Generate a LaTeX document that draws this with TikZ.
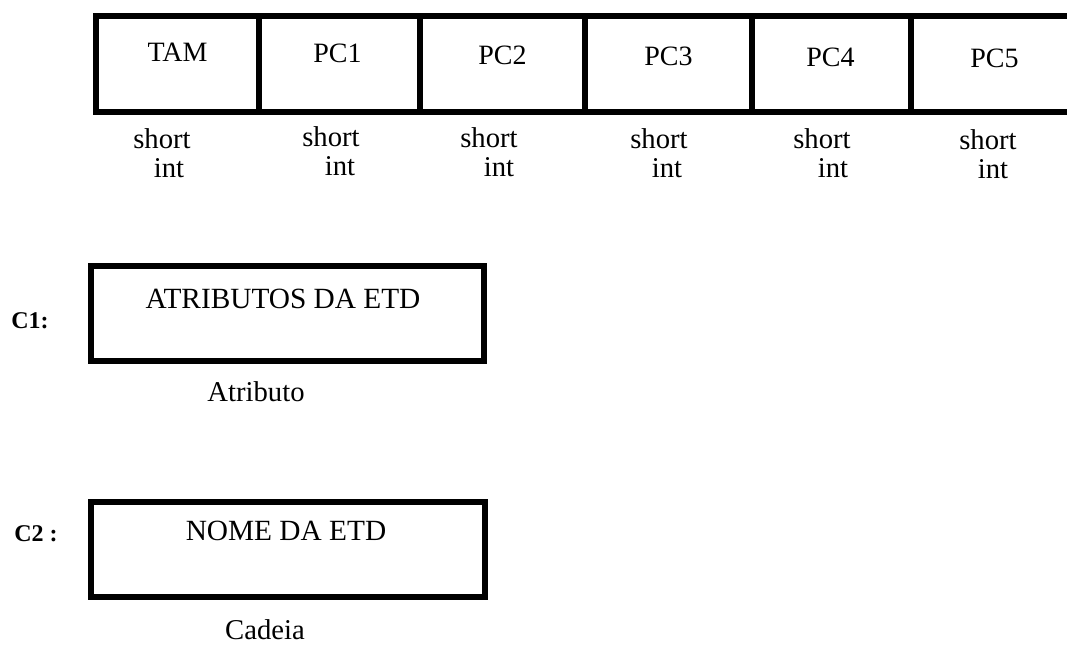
\documentclass[tikz,border=0pt]{standalone}
\usepackage{fontspec}
\setmainfont{Liberation Serif}
\usetikzlibrary{calc}
\tikzset{
  cellbox/.style={draw=black, line width=4.8pt, inner sep=0pt, outer sep=0pt,
    minimum height=96*0.75pt},
  bigbox/.style={draw=black, line width=5.2pt, inner sep=0pt, outer sep=0pt},
  celltxt/.style={inner sep=0pt, font=\fontsize{21}{25}\selectfont},
  typetxt/.style={inner sep=0pt, anchor=base, font=\fontsize{21.5}{26}\selectfont},
  boxtxt/.style={inner sep=0pt, anchor=base, font=\fontsize{22}{26}\selectfont},
  sidetxt/.style={inner sep=0pt, anchor=base, font=\fontsize{18}{22}\selectfont\bfseries}
}
\begin{document}
\begin{tikzpicture}[x=0.75pt,y=-0.75pt]
\useasboundingbox (0,0) rectangle (1067,646);
% top record
\node[cellbox, minimum width=163*0.75pt] (tam) at (177.5,64) {};
\node[cellbox, minimum width=161*0.75pt] (pc1) at (339.5,64) {};
\node[cellbox, minimum width=165*0.75pt] (pc2) at (502.5,64) {};
\node[cellbox, minimum width=167*0.75pt] (pc3) at (668.5,64) {};
\node[cellbox, minimum width=159*0.75pt] (pc4) at (831.5,64) {};
\node[cellbox, minimum width=169*0.75pt] (pc5) at (995.5,64) {};
\node[celltxt] (ttam) at ($(tam.north)+(0,36)$) {TAM};
\node[celltxt] (tpc1) at ($(pc1.north)+(-2,37)$) {PC1};
\node[celltxt] (tpc2) at ($(pc2.north)+(0,39)$) {PC2};
\node[celltxt] (tpc3) at ($(pc3.north)+(0,40)$) {PC3};
\node[celltxt] (tpc4) at ($(pc4.north)+(-1,41)$) {PC4};
\node[celltxt] (tpc5) at ($(pc5.north)+(-1,42)$) {PC5};
% type labels
\node[typetxt] (s1) at (162,148) {short};
\node[typetxt] (i1) at (169,177) {int};
\node[typetxt] (s2) at (331,146) {short};
\node[typetxt] (i2) at (340,175) {int};
\node[typetxt] (s3) at (489,147) {short};
\node[typetxt] (i3) at (499,176) {int};
\node[typetxt] (s4) at (659,148) {short};
\node[typetxt] (i4) at (667,177) {int};
\node[typetxt] (s5) at (822,148) {short};
\node[typetxt] (i5) at (833,177) {int};
\node[typetxt] (s6) at (988,149) {short};
\node[typetxt] (i6) at (993,178) {int};
% C1
\node[bigbox, minimum width=393*0.75pt, minimum height=95*0.75pt] (c1box) at (287.5,313.5) {};
\node[boxtxt] (c1txt) at (283,308) {ATRIBUTOS DA ETD};
\node[typetxt] (c1type) at (256,401) {Atributo};
\node[sidetxt] (c1lab) at (30,328) {C1:};
% C2
\node[bigbox, minimum width=394*0.75pt, minimum height=95*0.75pt] (c2box) at (288,549.5) {};
\node[boxtxt] (c2txt) at (286,540) {NOME DA ETD};
\node[typetxt] (c2type) at (265,639) {Cadeia};
\node[sidetxt] (c2lab) at (36,541) {C2 :};
\end{tikzpicture}
\end{document}
